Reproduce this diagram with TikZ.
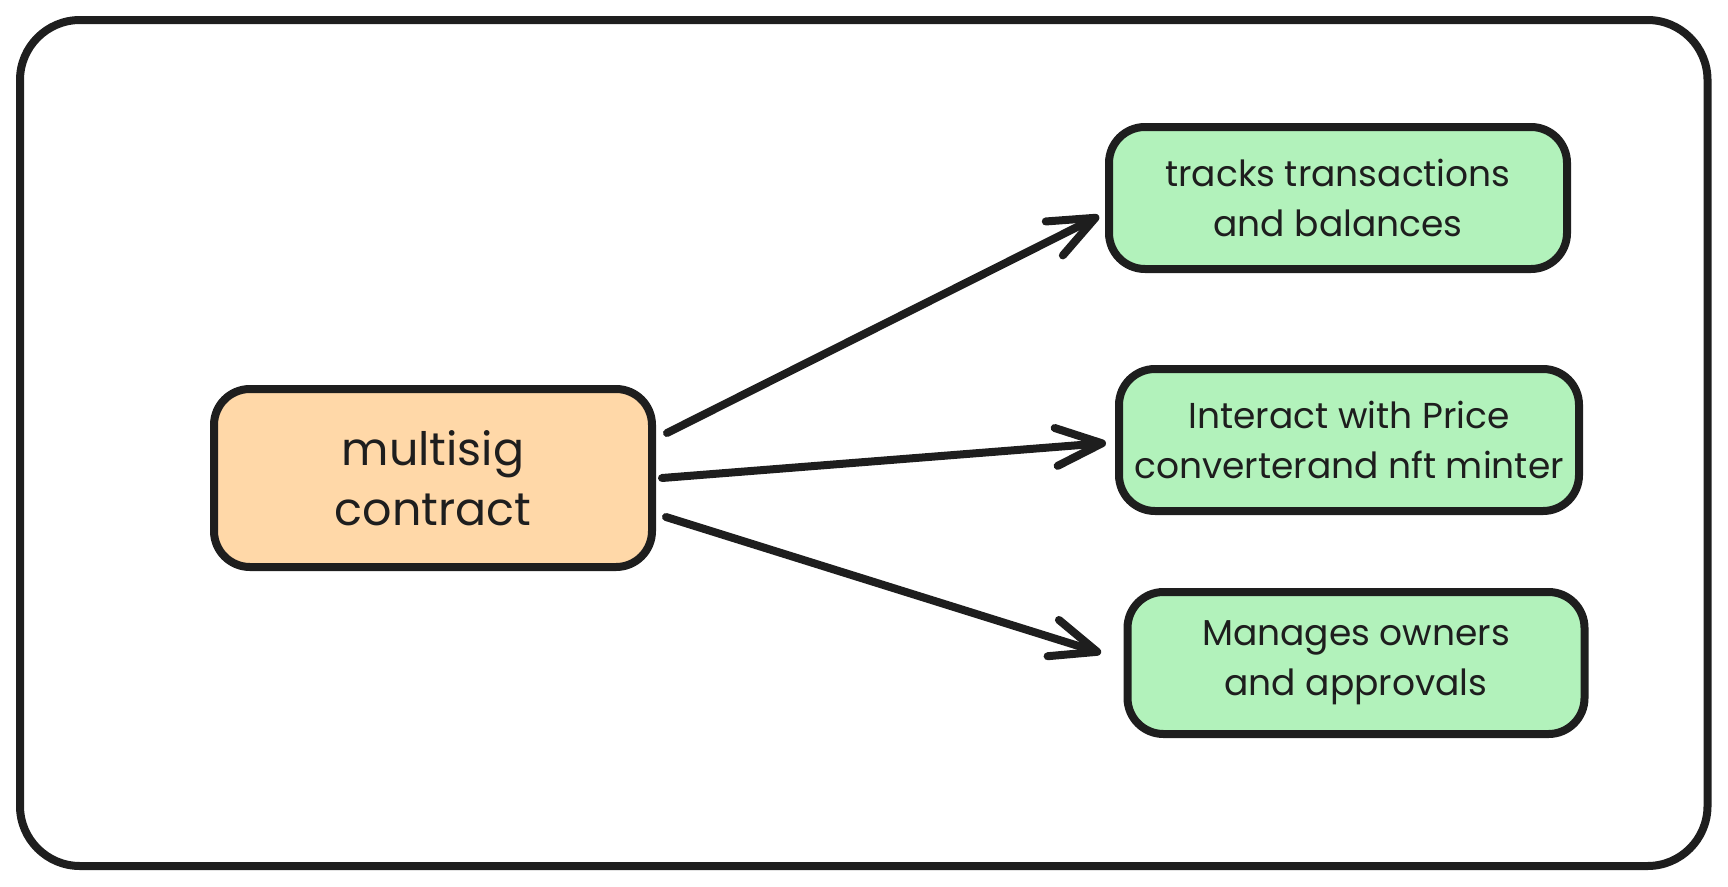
\documentclass[tikz,border=0pt]{standalone}
\usepackage{fontspec}
\setmainfont{Poppins}
\usetikzlibrary{arrows.meta}
\definecolor{ink}{HTML}{1E1E1E}
\definecolor{orangefill}{HTML}{FFD8A8}
\definecolor{greenfill}{HTML}{B2F2BB}
\begin{document}
\begin{tikzpicture}[x=1pt,y=-1pt,
  box/.style={draw=ink, line width=8pt, rounded corners=36pt, align=center,
    text=ink, inner sep=0pt},
  mainbox/.style={box, fill=orangefill, minimum width=438pt, minimum height=178pt,
    font=\fontsize{46}{60}\selectfont},
  leafbox/.style={box, fill=greenfill, minimum width=458pt, minimum height=142pt,
    font=\fontsize{36}{50}\selectfont},
  conn/.style={draw=ink, line width=8pt, line cap=round,
    -{Straight Barb[length=46pt, width=38pt, line cap=round, round]}}
]
\useasboundingbox (0,0) rectangle (1728,886);
\draw[ink, line width=8pt, rounded corners=60pt] (20,20) rectangle (1707.5,866);

\node[mainbox] (c) at (433,478) {multisig\\contract};
\node[leafbox] (t1) at (1338,198) {tracks transactions\\and balances};
\node[leafbox, minimum width=460pt] (t2) at (1349,440) {Interact with Price\\converterand nft minter};
\node[leafbox, minimum width=457pt] (t3) at (1356,663) {Manages owners\\and approvals};

\draw[conn] ([xshift=11pt,yshift=45pt]c.east) -- ([xshift=-6pt,yshift=-18pt]t1.west);
\draw[conn] ([xshift=6pt]c.east) -- ([xshift=-9pt,yshift=-3pt]t2.west);
\draw[conn] ([xshift=10pt,yshift=-39pt]c.east) -- ([xshift=-22.5pt,yshift=10pt]t3.west);
\end{tikzpicture}
\end{document}
